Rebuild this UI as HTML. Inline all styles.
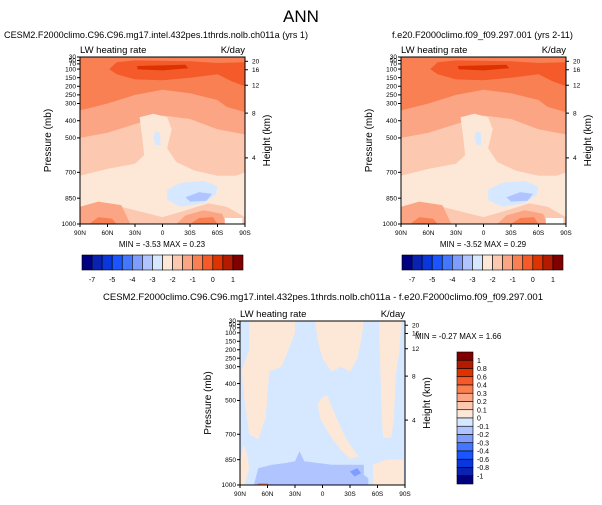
<!DOCTYPE html>
<html><head><meta charset="utf-8"><style>
html,body{margin:0;padding:0;background:#fff;}
svg{display:block;font-family:"Liberation Sans",sans-serif;}
</style></head><body>
<svg id="c" width="602" height="505" viewBox="0 0 602 505" xmlns="http://www.w3.org/2000/svg">
<text x="301" y="22" font-size="17" text-anchor="middle">ANN</text>
</svg>
<script>
const NS="http://www.w3.org/2000/svg";
const svg=document.getElementById('c');
const pTicks=[30,50,70,100,150,200,250,300,400,500,700,850,1000];
const latTicks=[90,60,30,0,-30,-60,-90];
const latLabels=["90N","60N","30N","0","30S","60S","90S"];
const kmTicks=[20,16,12,8,4];
const kmPressure=[55,104,194,356,616];
const cbColors=["#000080","#0a22b0","#0a36dd","#1a55ff","#4477ff","#7f9cff","#b0c4ff","#d6e8ff","#fde8d8","#fcc9b0","#fba585","#f88052","#f45a2a","#dd3300","#b31a00","#800000"];
const cbLabels=["-7","-5","-4","-3","-2","-1","0","1"];
const diffLabels=["1","0.8","0.6","0.4","0.3","0.2","0.1","0","-0.1","-0.2","-0.3","-0.4","-0.6","-0.8","-1"];
const minA=-3.53,maxA=0.23,minB=-3.52,maxB=0.29,minC=-0.27,maxC=1.66;

function el(tag,attrs,parent,name,inter){const e=document.createElementNS(NS,tag);for(const k in attrs)e.setAttribute(k,attrs[k]);


(parent||svg).appendChild(e);return e;}
function txt(x,y,s,size,anchor,name,parent,rot){const t=el('text',{x:x,y:y,'font-size':size,'text-anchor':anchor||'start'},parent,name,false);if(rot)t.setAttribute('transform','rotate(-90 '+x+' '+y+')');t.textContent=s;return t;}

const fieldA=[
 ['#fcc9b0',[[90,30],[-90,30],[-90,1000],[90,1000]]],
 ['#fba585',[[90,30],[-90,30],[-90,480],[-60,450],[-30,390],[0,370],[30,420],[60,470],[90,500]]],
 ['#f88052',[[90,30],[-90,30],[-90,350],[-70,320],[-60,280],[-30,240],[0,220],[30,250],[60,300],[90,340]]],
 ['#f45a2a',[[50,60],[30,50],[-30,55],[-60,65],[-90,60],[-90,200],[-75,170],[-60,130],[-30,150],[0,165],[30,160],[50,130],[58,100]]],
 ['#dd3300',[[28,82],[-25,75],[-28,95],[0,108],[27,102]]],
 ['#fde8d8',[[25,380],[10,360],[-5,380],[-10,450],[-5,560],[-15,640],[-35,690],[-60,720],[-80,720],[-90,700],[-90,960],[-70,900],[-50,880],[-20,930],[0,960],[30,920],[60,880],[80,900],[90,950],[90,720],[60,680],[30,650],[20,600],[22,500]]],
 ['#d6e8ff',[[-5,800],[-20,760],[-45,750],[-60,780],[-58,830],[-45,880],[-20,900],[-5,860]]],
 ['#b0c4ff',[[-25,845],[-40,815],[-54,825],[-48,865],[-30,870]]],
 ['#d6e8ff',[[8,460],[3,470],[2,540],[7,545],[10,500]]],
 ['#fba585',[[90,900],[70,870],[45,890],[35,1000],[90,1000]]],
 ['#fba585',[[-15,1000],[-25,950],[-45,920],[-65,940],[-70,1000]]],
 ['#f88052',[[80,1000],[70,960],[55,970],[50,1000]]],
 ['#f88052',[[-30,1000],[-40,965],[-55,960],[-60,1000]]],
 ['#ffffff',[[-68,965],[-87,965],[-87,1000],[-68,1000]]]
];
const fieldC=[
 ['#d6e8ff',[[90,30],[-90,30],[-90,1000],[90,1000]]],
 ['#fde8d8',[[80,30],[30,30],[30,100],[40,240],[45,300],[58,330],[62,600],[70,730],[80,700],[85,500],[88,320],[80,200]]],
 ['#fde8d8',[[8,30],[-45,30],[-42,150],[-38,250],[-30,330],[-20,300],[-10,330],[0,250],[5,150]]],
 ['#fde8d8',[[5,520],[0,480],[-5,470],[-15,600],[-25,720],[-35,800],[-40,830],[-30,845],[-20,790],[-10,720],[-2,650],[3,600]]],
 ['#fde8d8',[[-62,30],[-86,30],[-84,200],[-80,350],[-78,600],[-75,720],[-66,720],[-64,500],[-63,300],[-62,150]]],
 ['#fde8d8',[[90,870],[86,760],[82,820],[80,900],[85,1000],[90,1000]]],
 ['#fde8d8',[[-55,1000],[-55,880],[-70,850],[-88,850],[-88,1000]]],
 ['#b0c4ff',[[75,1000],[70,900],[55,880],[40,870],[30,860],[25,800],[20,860],[-10,880],[-45,880],[-45,940],[-50,960],[-50,1000]]],
 ['#7f9cff',[[-30,920],[-38,900],[-42,930],[-35,950]]],
 ['#f88052',[[72,1000],[70,990],[60,990],[58,1000]]]
];

function panel(x0,y0,w,h,field,pref,title,minv,maxv){
 const g=el('g',{},svg,pref+'-panel',false);
 const X=lat=>x0+(90-lat)/180*w;
 const Y=p=>y0+h-(1000-p)/970*h;
 field.forEach((f,i)=>{el('polygon',{points:f[1].map(q=>X(q[0]).toFixed(1)+','+Y(q[1]).toFixed(1)).join(' '),fill:f[0]},g,pref+'-contour-fill-'+i,false);});
 el('rect',{x:x0,y:y0,width:w,height:h,fill:'none',stroke:'#000','stroke-width':1},g,pref+'-plot-frame',false);
 pTicks.forEach(p=>{const y=Y(p);el('line',{x1:x0-3,x2:x0,y1:y,y2:y,stroke:'#000'},g,pref+'-y-tick',false);
  txt(x0-4,y+2.2,String(p),6.5,'end',pref+'-y-tick-label',g);});
 latTicks.forEach((l,i)=>{const x=X(l);el('line',{x1:x,x2:x,y1:y0+h,y2:y0+h+3,stroke:'#000'},g,pref+'-x-tick',false);
  txt(x,y0+h+11,latLabels[i],6.5,'middle',pref+'-x-tick-label',g);});
 kmTicks.forEach((k,i)=>{const y=Y(kmPressure[i]);el('line',{x1:x0+w,x2:x0+w+3,y1:y,y2:y,stroke:'#000'},g,pref+'-height-tick',false);
  txt(x0+w+7,y+2.2,String(k),6.5,'start',pref+'-height-tick-label',g);});
 txt(x0-29,y0+h/2,'Pressure (mb)',10,'middle',pref+'-y-axis-title',g,true);
 txt(x0+w+25,y0+h/2,'Height (km)',10,'middle',pref+'-height-axis-title',g,true);
 txt(x0,y0-4,'LW heating rate',9.5,'start',pref+'-left-subtitle',g);
 txt(x0+w,y0-4,'K/day',9.5,'end',pref+'-right-subtitle',g);
 const t=txt(title[1],title[2],title[0],9.5,'start',pref+'-case-title',g);
 t.setAttribute('textLength',title[3]);t.setAttribute('lengthAdjust','spacingAndGlyphs');
 return {X,Y};
}
function hbar(x0,y0,w,h,pref){
 const bw=w/cbColors.length;
 cbColors.forEach((c,i)=>el('rect',{x:x0+i*bw,y:y0,width:bw,height:h,fill:c,stroke:'#000','stroke-width':0.6},svg,pref+'-colorbar-box',false));
 cbLabels.forEach((s,i)=>txt(x0+bw*(2*i+1),y0+h+12,s,7,'middle',pref+'-colorbar-label'));
}
panel(80,57,165,167,fieldA,'left',['CESM2.F2000climo.C96.C96.mg17.intel.432pes.1thrds.nolb.ch011a (yrs 1)',4,38,304],minA,maxA);
txt(162,247,'MIN =  '+minA+'  MAX =   '+maxA,8,'middle','left-min-max');
hbar(82,255,161,15,'left');
panel(401,57,165,167,fieldA,'right',['f.e20.F2000climo.f09_f09.297.001 (yrs 2-11)',392,38,181],minB,maxB);
txt(483,247,'MIN =  '+minB+'  MAX =   '+maxB,8,'middle','right-min-max');
hbar(402,255,161,15,'right');
panel(240,321,165,164,fieldC,'diff',['CESM2.F2000climo.C96.C96.mg17.intel.432pes.1thrds.nolb.ch011a - f.e20.F2000climo.f09_f09.297.001',103,300,440],minC,maxC);
txt(415,339,'MIN =  '+minC+'  MAX =   '+maxC,8,'start','diff-min-max');
const vb=[457,352,16,132];const bh=vb[3]/cbColors.length;
cbColors.slice().reverse().forEach((c,i)=>el('rect',{x:vb[0],y:vb[1]+i*bh,width:vb[2],height:bh,fill:c,stroke:'#000','stroke-width':0.6},svg,'diff-colorbar-box',false));
diffLabels.forEach((s,i)=>txt(vb[0]+vb[2]+4,vb[1]+bh*(i+1)+2.5,s,7,'start','diff-colorbar-label'));
</script>
</body></html>
